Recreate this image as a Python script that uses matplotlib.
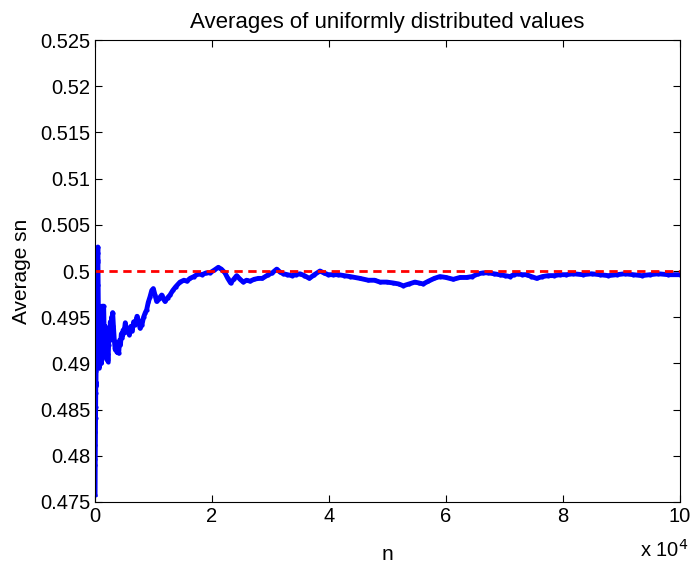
import matplotlib
matplotlib.use("Agg")
import matplotlib.pyplot as plt
from matplotlib.ticker import FormatStrFormatter

plt.rcParams['font.family'] = ['Liberation Sans', 'DejaVu Sans']

# valores (n, promedio acumulado)
n_vals = [10, 25, 40, 55, 70, 85, 100, 120, 140, 160, 180, 200, 220, 240,
          260, 280, 300, 320, 340, 360, 380, 400, 420, 440, 460, 480, 500, 520,
          560, 600, 650, 700, 760, 820, 880, 950, 1020, 1100, 1180, 1250, 1320,
          1400, 1480, 1560, 1650, 1750, 1850, 1950, 2050, 2150, 2220, 2320,
          2420, 2520, 2620, 2720, 2820, 2920, 3020, 3150, 3300, 3450, 3600,
          3750, 3900, 4050, 4200, 4350, 4500, 4650, 4800, 4950, 5180, 5400,
          5600, 5870, 6100, 6350, 6600, 6850, 7180, 7450, 7700, 8030, 8300,
          8600, 8830, 9100, 9400, 9700, 9970, 10250, 10540, 10900, 11400,
          11700, 11970, 12400, 12820, 13300, 13800, 14530, 15200, 15700, 16240,
          16900, 17660, 18300, 19000, 19660, 20400, 21080, 21600, 22220, 22700,
          23190, 23700, 24220, 24800, 25350, 25900, 26500, 27200, 27920, 28600,
          29630, 30300, 31060, 31600, 32200, 32900, 33620, 34300, 35040, 35800,
          36640, 37500, 38460, 39100, 39880, 40700, 41600, 42600, 43590, 45300,
          46720, 47800, 48720, 49900, 51000, 51900, 52700, 53700, 54700, 55400,
          56100, 57000, 58000, 58970, 60000, 61250, 62400, 63530, 64500, 65520,
          66400, 67240, 68200, 69230, 70100, 70940, 71600, 72360, 73000, 73790,
          74600, 75500, 76500, 77490, 78500, 79490, 80600, 81760, 83400, 84900,
          86300, 87750, 89200, 90600, 92000, 93450, 94900, 96300, 98000, 100000]

avg_vals = [0.4758, 0.4790, 0.4797, 0.4812, 0.4826, 0.4841, 0.4853, 0.4868,
            0.4880, 0.4875, 0.4892, 0.4906, 0.4899, 0.4915, 0.4931, 0.4924,
            0.4943, 0.4960, 0.4952, 0.4971, 0.4986, 0.4979, 0.4998, 0.5012,
            0.5020, 0.5026, 0.5010, 0.4985,
            0.4950, 0.4920, 0.4900, 0.4895, 0.4915, 0.4950, 0.4935, 0.4905,
            0.4925, 0.4900, 0.4935, 0.4962, 0.4940, 0.4958, 0.4962, 0.4935,
            0.4915, 0.4940, 0.4920, 0.4905, 0.4925, 0.4910, 0.4902, 0.4920,
            0.4935, 0.4925, 0.4945, 0.4930, 0.4950, 0.4942, 0.4955, 0.4940,
            0.4925, 0.4915, 0.4922, 0.4912, 0.4918, 0.4911, 0.4925, 0.4920,
            0.4932, 0.4928, 0.4936, 0.4933, 0.4944, 0.4934, 0.4938, 0.4931,
            0.4940, 0.4935, 0.4945, 0.4942, 0.4951, 0.4946, 0.4938, 0.4942,
            0.4950, 0.4955, 0.4958, 0.4966, 0.4972, 0.4979, 0.4981, 0.4974,
            0.4967, 0.4970, 0.4974, 0.4970, 0.4967, 0.4971, 0.4974, 0.4979,
            0.4983, 0.4988, 0.4990, 0.4989, 0.4992, 0.4994, 0.4997, 0.4996,
            0.4998, 0.4998, 0.5001, 0.5004, 0.5002, 0.4998, 0.4992, 0.4987,
            0.4991, 0.4995, 0.4991, 0.4988, 0.4990, 0.4989, 0.4991, 0.4992,
            0.4992, 0.4996, 0.4998, 0.5002, 0.4999, 0.4997, 0.4996, 0.4995,
            0.4996, 0.4997, 0.4995, 0.4992, 0.4996, 0.5000, 0.4998, 0.4996,
            0.4996, 0.4996, 0.4995, 0.4994, 0.4992, 0.4990, 0.4990, 0.4988,
            0.4988, 0.4987, 0.4986, 0.4984, 0.4986, 0.4988, 0.4987, 0.4986,
            0.4989, 0.4992, 0.4994, 0.4993, 0.4991, 0.4993, 0.4993, 0.4994,
            0.4997, 0.4998, 0.4998, 0.4997, 0.4996, 0.4995, 0.4994, 0.4996,
            0.4997, 0.4996, 0.4996, 0.4994, 0.4992, 0.4994, 0.4995, 0.4995,
            0.4996, 0.4996, 0.4997, 0.4996, 0.4997, 0.4996, 0.4995, 0.4996,
            0.4997, 0.4996, 0.4995, 0.4996, 0.4997, 0.4996, 0.4996]

media = 0.5
x_ticks = [0, 20000, 40000, 60000, 80000, 100000]
x_labels = ["0", "2", "4", "6", "8", "10"]
y_ticks = [0.475, 0.48, 0.485, 0.49, 0.495, 0.5, 0.505, 0.51, 0.515, 0.52, 0.525]

fig = plt.figure(figsize=(6.91, 5.64), dpi=100)
ax = fig.add_axes([0.1375, 0.11, 0.8465, 0.819])

ax.plot(n_vals, avg_vals, color="blue", linewidth=3.5, marker=".", markersize=4)
ax.axhline(media, color="red", linestyle=(0, (3, 2)), linewidth=2)

ax.set_xlim(0, 100000)
ax.set_ylim(0.475, 0.525)
ax.set_xticks(x_ticks)
ax.set_xticklabels(x_labels)
ax.set_yticks(y_ticks)
ax.yaxis.set_major_formatter(FormatStrFormatter("%g"))
ax.tick_params(direction="in", length=5, top=True, right=True, labelsize=14.5)

ax.set_title("Averages of uniformly distributed values", fontsize=16, pad=9)
ax.set_xlabel("n", fontsize=15, labelpad=14)
ax.set_ylabel("Average sn", fontsize=15, labelpad=6)
fig.text(0.926, 0.013, r"x 10$^{4}$", fontsize=14.5)

fig.savefig("out.png", dpi=100)
